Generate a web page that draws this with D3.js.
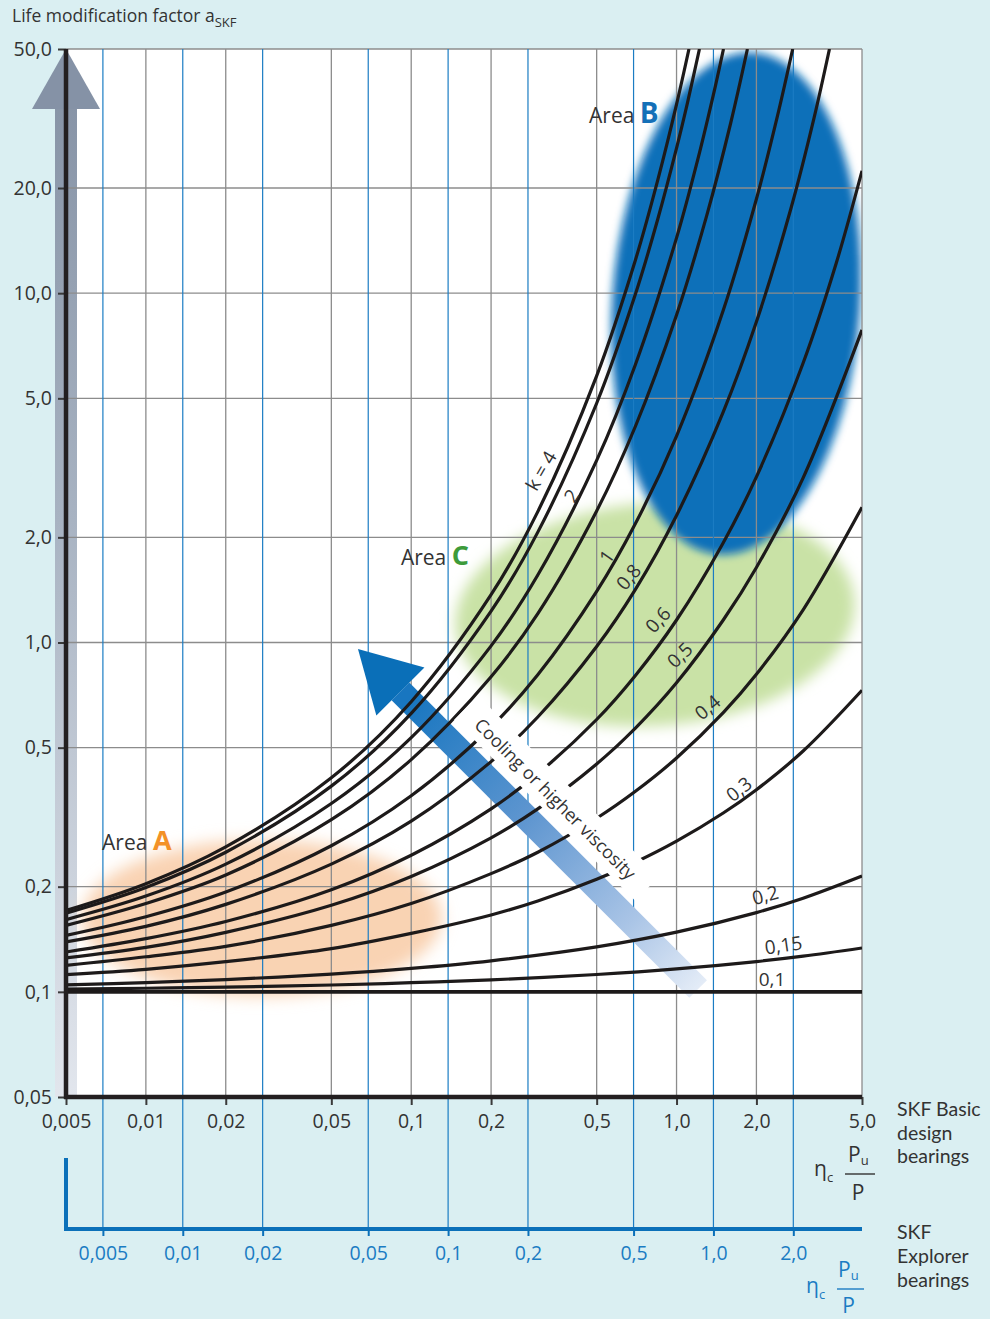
<!DOCTYPE html>
<html><head><meta charset="utf-8">
<script src="https://cdn.jsdelivr.net/npm/d3@7"></script>
<style>
body{margin:0;background:#daeff2;}
svg{display:block;font-family:"Open Sans","Noto Sans",sans-serif;}
</style></head><body>
<svg id="chart" width="990" height="1319"></svg>
<script>
// ---------- DATA ----------
const xTicks = [0.005,0.01,0.02,0.05,0.1,0.2,0.5,1,2,5];
const xTickLabels = ["0,005","0,01","0,02","0,05","0,1","0,2","0,5","1,0","2,0","5,0"];
const xExplorerTicks = [0.005,0.01,0.02,0.05,0.1,0.2,0.5,1,2];
const xExplorerLabels = ["0,005","0,01","0,02","0,05","0,1","0,2","0,5","1,0","2,0"];
const yTicks = [0.05,0.1,0.2,0.5,1,2,5,10,20,50];
const yTickLabels = ["0,05","0,1","0,2","0,5","1,0","2,0","5,0","10,0","20,0","50,0"];

// kappa curves: [eta_c*Pu/P , a_SKF]
const curveK4   = [[0.005,0.171],[0.01,0.204],[0.02,0.260],[0.05,0.410],[0.1,0.677],[0.2,1.37],[0.3,2.37],[0.5,5.80],[0.7,12.45],[0.85,21.1],[1.0,34.7],[1.114,50]];
const curveK3   = [[0.005,0.168],[0.01,0.199],[0.02,0.251],[0.05,0.388],[0.1,0.627],[0.2,1.23],[0.3,2.07],[0.5,4.84],[0.7,9.94],[0.85,16.3],[1.0,26.0],[1.1,35.1],[1.22,50]];
const curveK2   = [[0.005,0.161],[0.01,0.188],[0.02,0.232],[0.05,0.346],[0.1,0.534],[0.2,0.978],[0.3,1.56],[0.5,3.32],[0.7,6.25],[1.0,14.4],[1.2,24.0],[1.4,39.1],[1.503,50]];
const curveK15  = [[0.005,0.155],[0.01,0.179],[0.02,0.216],[0.05,0.311],[0.1,0.462],[0.2,0.798],[0.3,1.21],[0.5,2.38],[0.7,4.16],[1.0,8.66],[1.3,16.7],[1.6,30.7],[1.85,50]];
const curveK1   = [[0.005,0.145],[0.01,0.164],[0.02,0.193],[0.05,0.262],[0.1,0.364],[0.2,0.573],[0.3,0.808],[0.5,1.40],[0.7,2.19],[1.0,3.90],[1.5,8.93],[2.0,18.6],[2.4,32.1],[2.74,50]];
const curveK08  = [[0.005,0.139],[0.01,0.154],[0.02,0.178],[0.05,0.232],[0.1,0.308],[0.2,0.456],[0.3,0.612],[0.5,0.974],[0.7,1.42],[1.0,2.31],[1.5,4.57],[2.0,8.28],[2.7,17.5],[3.3,31.8],[3.77,50]];
const curveK06  = [[0.005,0.130],[0.01,0.142],[0.02,0.159],[0.05,0.196],[0.1,0.246],[0.2,0.334],[0.3,0.421],[0.5,0.602],[0.7,0.805],[1.0,1.16],[1.5,1.93],[2.0,2.98],[3.0,6.31],[4.0,12.2],[5.0,22.4]];
const curveK05  = [[0.005,0.125],[0.01,0.134],[0.02,0.148],[0.05,0.177],[0.1,0.214],[0.2,0.276],[0.3,0.334],[0.5,0.449],[0.7,0.569],[1.0,0.767],[1.5,1.16],[2.0,1.64],[3.0,2.96],[5.0,7.85]];
const curveK04  = [[0.005,0.119],[0.01,0.126],[0.02,0.135],[0.05,0.155],[0.1,0.179],[0.2,0.218],[0.3,0.251],[0.5,0.314],[0.7,0.375],[1.0,0.467],[1.5,0.630],[2.0,0.811],[3.0,1.24],[5.0,2.44]];
const curveK03  = [[0.005,0.112],[0.01,0.116],[0.02,0.122],[0.05,0.133],[0.1,0.147],[0.2,0.166],[0.3,0.182],[0.5,0.210],[0.7,0.235],[1.0,0.270],[1.5,0.325],[2.0,0.379],[3.0,0.489],[5.0,0.730]];
const curveK02  = [[0.005,0.1047],[0.01,0.1063],[0.02,0.1084],[0.05,0.1124],[0.1,0.1167],[0.2,0.1227],[0.5,0.1345],[1.0,0.1482],[2.0,0.1686],[3.0,0.1854],[5.0,0.2146]];
const curveK015 = [[0.005,0.1018],[0.01,0.1024],[0.02,0.1032],[0.05,0.1046],[0.1,0.1062],[0.2,0.1082],[0.5,0.1121],[1.0,0.1163],[2.0,0.1221],[3.0,0.1265],[5.0,0.1335]];
const curveK01  = [[0.005,0.1],[5.0,0.1]];

// curve labels, anchored in data coordinates
const curveLabels = ["k = 4","2","1","0,8","0,6","0,5","0,4","0,3","0,2","0,15","0,1"];
const curveLabelX = [0.309,0.402,0.547,0.66,0.852,1.03,1.31,1.72,2.16,2.53,2.29];
const curveLabelY = [3.1,2.63,1.76,1.54,1.16,0.92,0.652,0.38,0.189,0.136,0.1085];

// areas (data extents) and annotation anchors
const areaAExtent = {x:[0.00574,0.1307], y:[0.0973,0.272]};
const areaCExtent = {x:[0.1463,4.71],    y:[0.577,2.51]};
const areaBExtent = {x:[0.5716,4.918],   y:[1.78,49.0]};
const areaLabels = ["A","C","B"];
const areaLabelX = [0.00684,0.0915,0.468];
const areaLabelY = [0.2547,1.667,30.7];

// "Cooling or higher viscosity" arrow (tip, tail) in data coordinates
const coolTip  = [0.0630,0.958];
const coolTail = [1.206,0.1019];

// ---------- LAYOUT / STYLE ----------
const plot = {left:66,right:862,top:49,bottom:1097};
const explorerAxisY = 1229;
const FONT = '"Open Sans","Noto Sans",sans-serif';
const CAPFONT = 'Lato,"Open Sans",sans-serif';
const TXT = "#333333";
const BLUE = "#0b70b9";
const BLUE_T = "#1b7cc3";

const x  = d3.scaleLog().domain([0.005,5]).range([plot.left,plot.right]);
const y  = d3.scaleLog().domain([0.05,50]).range([plot.bottom,plot.top]);
const xE = d3.scaleLog().domain([0.00363,3.63]).range([plot.left,plot.right]);

const svg = d3.select("#chart");
const defs = svg.append("defs");
defs.append("clipPath").attr("id","clip").append("rect")
  .attr("x",plot.left).attr("y",plot.top)
  .attr("width",plot.right-plot.left).attr("height",plot.bottom-plot.top);
function blur(id,sd){
  defs.append("filter").attr("id",id).attr("x","-30%").attr("y","-30%").attr("width","160%").attr("height","160%")
    .append("feGaussianBlur").attr("stdDeviation",sd);
}
blur("blurA",8); blur("blurC",7); blur("blurB",4.5);

// background
svg.append("rect").attr("width",990).attr("height",1319).attr("fill","#daeff2");
svg.append("rect").attr("x",plot.left).attr("y",plot.top)
  .attr("width",plot.right-plot.left).attr("height",plot.bottom-plot.top).attr("fill","#fff");

// gray vertical arrow along the y axis
const gg = defs.append("linearGradient").attr("id","grayArrow").attr("gradientUnits","userSpaceOnUse")
  .attr("x1",0).attr("y1",y(50)).attr("x2",0).attr("y2",y(0.05));
gg.append("stop").attr("offset",0).attr("stop-color","#8390a3");
gg.append("stop").attr("offset",0.45).attr("stop-color","#a8b3c2");
gg.append("stop").attr("offset",1).attr("stop-color","#e2e6ed");
{
  const ax = x(0.005), tipY = y(50), headH = 60, headW = 34, shaftW = 11;
  svg.append("rect").attr("x",ax-shaftW).attr("y",tipY+headH-1).attr("width",shaftW*2)
    .attr("height",y(0.05)-tipY-headH+1).attr("fill","url(#grayArrow)");
  svg.append("polygon").attr("points",[[ax,tipY],[ax-headW,tipY+headH],[ax+headW,tipY+headH]].join(" "))
    .attr("fill","#8592a6");
}

// areas
const areas = svg.append("g").attr("clip-path","url(#clip)");
function blob(ext,color,filter,rot){
  const cx=(x(ext.x[0])+x(ext.x[1]))/2, cy=(y(ext.y[0])+y(ext.y[1]))/2;
  areas.append("ellipse").attr("cx",cx).attr("cy",cy)
    .attr("rx",Math.abs(x(ext.x[1])-x(ext.x[0]))/2).attr("ry",Math.abs(y(ext.y[0])-y(ext.y[1]))/2)
    .attr("fill",color).attr("filter",`url(#${filter})`)
    .attr("transform",`rotate(${rot},${cx},${cy})`);
}
blob(areaAExtent,"#f9d3b3","blurA",0);
blob(areaCExtent,"#c9e2a6","blurC",-4);
blob(areaBExtent,"#0b70b9","blurB",4);

// grid
const grid = svg.append("g");
grid.selectAll(".gv").data(xTicks.slice(1)).join("line")
  .attr("x1",d=>x(d)).attr("x2",d=>x(d)).attr("y1",plot.top).attr("y2",plot.bottom)
  .attr("stroke","#8c8c8c").attr("stroke-width",1.3);
grid.selectAll(".gh").data(yTicks.slice(1)).join("line")
  .attr("x1",plot.left).attr("x2",plot.right).attr("y1",d=>y(d)).attr("y2",d=>y(d))
  .attr("stroke","#8c8c8c").attr("stroke-width",1.3);
grid.selectAll(".ge").data(xExplorerTicks).join("line")
  .attr("x1",d=>xE(d)).attr("x2",d=>xE(d)).attr("y1",plot.top).attr("y2",explorerAxisY)
  .attr("stroke","#1b7cc3").attr("stroke-width",1.2);

// cooling arrow
const P0 = [x(coolTip[0]),y(coolTip[1])], P1 = [x(coolTail[0]),y(coolTail[1])];
const L = Math.hypot(P1[0]-P0[0],P1[1]-P0[1]);
const u = [(P1[0]-P0[0])/L,(P1[1]-P0[1])/L];
const pp = [u[1],-u[0]];
const ang = Math.atan2(u[1],u[0])*180/Math.PI;
const bg = defs.append("linearGradient").attr("id","blueArrow").attr("gradientUnits","userSpaceOnUse")
  .attr("x1",P0[0]).attr("y1",P0[1]).attr("x2",P1[0]).attr("y2",P1[1]);
bg.append("stop").attr("offset",0.15).attr("stop-color","#1876c0");
bg.append("stop").attr("offset",0.5).attr("stop-color","#5f96d0");
bg.append("stop").attr("offset",0.8).attr("stop-color","#a9c4e6");
bg.append("stop").attr("offset",1).attr("stop-color","#e4ecf7");
{
  const headL=60, headW=34, sw=12.5;
  const b=[P0[0]+u[0]*headL,P0[1]+u[1]*headL];
  const pt=(q,s)=>[q[0]+pp[0]*s,q[1]+pp[1]*s];
  svg.append("polygon").attr("points",[pt(b,sw),pt(P1,sw),pt(P1,-sw),pt(b,-sw)].join(" "))
    .attr("fill","url(#blueArrow)");
  svg.append("polygon").attr("points",[P0,pt(b,headW),pt(b,-headW)].join(" ")).attr("fill","#0a6fb8");
}

// curves
const line = d3.line().x(d=>x(d[0])).y(d=>y(d[1])).curve(d3.curveCatmullRom.alpha(0.5));
const allCurves = [curveK4,curveK3,curveK2,curveK15,curveK1,curveK08,curveK06,curveK05,curveK04,curveK03,curveK02,curveK015,curveK01];
svg.append("g").attr("clip-path","url(#clip)").selectAll("path").data(allCurves).join("path")
  .attr("d",line).attr("fill","none").attr("stroke","#1d1a1a")
  .attr("stroke-width",(d,i)=>i===allCurves.length-1?3.8:3.2).attr("stroke-linecap","butt");

// text band on the arrow
const band = svg.append("g").attr("transform",`translate(${P0[0]},${P0[1]}) rotate(${ang})`);
band.append("rect").attr("x",118).attr("y",-52).attr("width",256).attr("height",34).attr("fill","#fff");
band.append("text").attr("x",136).attr("y",-27).attr("font-size",18).attr("fill",TXT)
  .attr("font-family",FONT).text("Cooling or higher viscosity");

// curve labels
const labelAngles = [-60,-57,-55,-50,-48,-44,-40,-38,-15,-8,0];
svg.append("g").selectAll("text").data(curveLabels).join("text")
  .attr("transform",(d,i)=>`translate(${x(curveLabelX[i])},${y(curveLabelY[i])}) rotate(${labelAngles[i]})`)
  .attr("text-anchor","middle").attr("dy","0.35em").attr("font-size",19).attr("fill",TXT)
  .attr("font-family",FONT).text(d=>d);

// area labels
const areaColors = ["#f39127","#3d9b3a","#1470b8"];
const areaSizes = [27,27,28];
areaLabels.forEach((lab,i)=>{
  const t = svg.append("text").attr("x",x(areaLabelX[i])).attr("y",y(areaLabelY[i]))
    .attr("font-family",FONT).attr("fill",TXT);
  t.append("tspan").attr("font-size",21).text("Area ");
  t.append("tspan").attr("font-size",areaSizes[i]).attr("font-weight",700).attr("fill",areaColors[i]).text(lab);
});

// axes
const yAx = svg.append("g").attr("transform",`translate(${plot.left},0)`)
  .call(d3.axisLeft(y).tickValues(yTicks).tickFormat((d,i)=>yTickLabels[i]).tickSize(8).tickSizeOuter(0).tickPadding(6));
yAx.attr("font-family",FONT).attr("font-size",19.5);
yAx.select(".domain").remove();
yAx.selectAll(".tick line").attr("stroke","#3a3a3a").attr("stroke-width",2);
yAx.selectAll(".tick text").attr("fill",TXT);

const xAx = svg.append("g").attr("transform",`translate(0,${plot.bottom})`)
  .call(d3.axisBottom(x).tickValues(xTicks).tickFormat((d,i)=>xTickLabels[i]).tickSize(8).tickSizeOuter(0).tickPadding(9));
xAx.attr("font-family",FONT).attr("font-size",19.5);
xAx.select(".domain").remove();
xAx.selectAll(".tick line").attr("stroke","#3a3a3a").attr("stroke-width",2);
xAx.selectAll(".tick text").attr("fill",TXT);

svg.append("line").attr("x1",plot.left).attr("x2",plot.left).attr("y1",plot.top).attr("y2",plot.bottom+2)
  .attr("stroke","#231f20").attr("stroke-width",4.5);
svg.append("line").attr("x1",plot.left-2).attr("x2",plot.right).attr("y1",plot.bottom).attr("y2",plot.bottom)
  .attr("stroke","#231f20").attr("stroke-width",4.5);

const eAx = svg.append("g").attr("transform",`translate(0,${explorerAxisY})`)
  .call(d3.axisBottom(xE).tickValues(xExplorerTicks).tickFormat((d,i)=>xExplorerLabels[i]).tickSize(7).tickSizeOuter(0).tickPadding(10));
eAx.attr("font-family",FONT).attr("font-size",19.5);
eAx.select(".domain").remove();
eAx.selectAll(".tick line").attr("stroke",BLUE).attr("stroke-width",2);
eAx.selectAll(".tick text").attr("fill",BLUE_T);
svg.append("line").attr("x1",plot.left-2).attr("x2",plot.right).attr("y1",explorerAxisY).attr("y2",explorerAxisY)
  .attr("stroke",BLUE).attr("stroke-width",4);
svg.append("line").attr("x1",plot.left).attr("x2",plot.left).attr("y1",1158).attr("y2",explorerAxisY+2)
  .attr("stroke",BLUE).attr("stroke-width",4);

// title
const title = svg.append("text").attr("x",12).attr("y",22).attr("font-family",FONT).attr("font-size",17.5).attr("fill",TXT);
title.append("tspan").text("Life modification factor a");
title.append("tspan").attr("font-size",13).attr("dy",5).text("SKF");

// right side captions (one text element per line)
function caption(lines,x0,y0,step,color){
  lines.forEach((s,i)=>svg.append("text").attr("x",x0).attr("y",y0+i*step)
    .attr("font-family",CAPFONT).attr("font-size",19.5).attr("fill",color).text(s));
}
caption(["SKF Basic","design","bearings"],897,1116,23.5,TXT);
caption(["SKF","Explorer","bearings"],897,1239,24,TXT);

// eta_c * Pu / P formulas
function formula(ex,ey,px,py,barY,barX0,barX1,py2,color){
  const g = svg.append("g").attr("font-family",FONT).attr("fill",color);
  const t = g.append("text").attr("x",ex).attr("y",ey).attr("font-size",21);
  t.append("tspan").text("η");
  t.append("tspan").attr("font-size",13).attr("dy",6).text("c");
  const t2 = g.append("text").attr("x",px).attr("y",py).attr("font-size",21);
  t2.append("tspan").text("P");
  t2.append("tspan").attr("font-size",13).attr("dy",3).text("u");
  g.append("line").attr("x1",barX0).attr("x2",barX1).attr("y1",barY).attr("y2",barY).attr("stroke",color).attr("stroke-width",1.4);
  g.append("text").attr("x",(barX0+barX1)/2-2).attr("y",py2).attr("text-anchor","middle").attr("font-size",21).text("P");
}
formula(814,1176,848,1162,1174,845,875,1200,TXT);
formula(806,1293,838,1277,1289,837,864,1313,BLUE_T);
</script></body></html>
